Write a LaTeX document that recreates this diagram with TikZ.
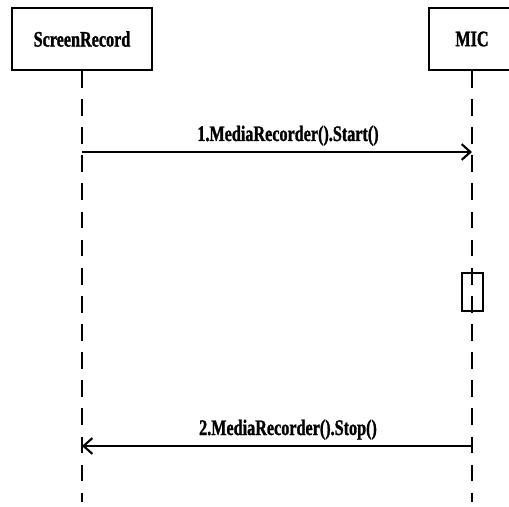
\documentclass[tikz,border=0pt]{standalone}
\usepackage{fontspec}
\setmainfont{Liberation Serif}[FakeStretch=0.73,FakeBold=1.2]
\usepackage{tikz}
\usetikzlibrary{arrows.meta}

\begin{document}
\begin{tikzpicture}[x=0.02cm,y=-0.02cm,
  obj/.style={draw,line width=1.2pt,minimum width=140*0.02cm,minimum height=62*0.02cm,font=\fontsize{12.6}{14}\selectfont\bfseries},
  life/.style={line width=1.1pt,dash pattern=on 9.5pt off 6.5pt},
  msg/.style={line width=1.2pt,-{Straight Barb[length=5pt,width=9pt,line width=1.2pt]}},
  lbl/.style={font=\fontsize{12.6}{14}\selectfont\bfseries}]
\useasboundingbox (0,0) rectangle (509,506);
% objets
\node[obj] (SR) at (82,39) {ScreenRecord};
\node[obj,minimum width=86*0.02cm] (MIC) at (472,39) {MIC};
% lignes de vie
\coordinate (SRend) at (82,502);
\coordinate (MICend) at (472,502);
\draw[life] (SR.south) -- (SRend);
\draw[life] (MIC.south) -- (MICend);
% activation
\node[draw,line width=1.1pt,minimum width=21*0.02cm,minimum height=38*0.02cm] (act) at (472.5,292) {};
% messages
\coordinate (s1) at (82,152);
\coordinate (m1) at (472,152);
\coordinate (m2) at (472,446);
\coordinate (s2) at (82,446);
\draw[msg] (s1) -- (m1);
\draw[msg] (m2) -- (s2);
\node[lbl,anchor=base] (l1) at (288,141) {1.MediaRecorder().Start()};
\node[lbl,anchor=base] (l2) at (288,435) {2.MediaRecorder().Stop()};
\end{tikzpicture}
\end{document}
